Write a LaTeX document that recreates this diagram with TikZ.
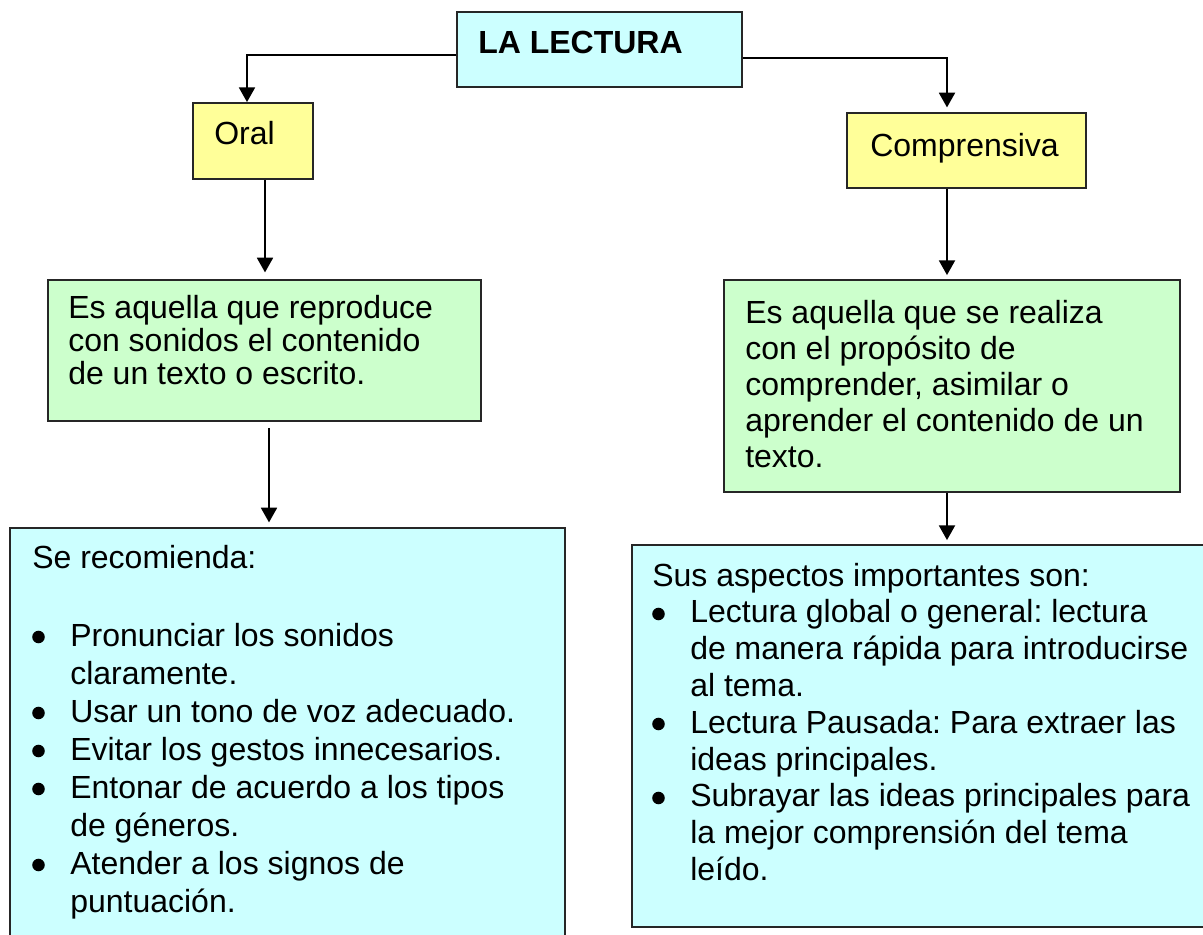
\documentclass[tikz,border=0pt]{standalone}
\usepackage{fontspec}
\setmainfont{Liberation Sans}
\usetikzlibrary{arrows.meta,fit}
\definecolor{cyanbox}{HTML}{CCFFFF}
\definecolor{yelbox}{HTML}{FFFF99}
\definecolor{grnbox}{HTML}{CCFFCC}
\newcommand{\bl}[1]{\hbox{\hspace*{28.5pt}#1}}
\newcommand{\cl}[1]{\hbox{\hspace*{28.5pt}#1}}
\frenchspacing
\begin{document}
\begin{tikzpicture}[x=0.75pt,y=-0.75pt,
  box/.style={draw=black!85, line width=1.4pt, inner sep=0pt},
  txt/.style={inner sep=0pt, anchor=base west, font=\fontsize{24}{27}\selectfont},
  bulletdot/.style={fill=black},
  arr/.style={draw=black, line width=1.4pt, -{Triangle[width=12pt,length=11pt]}}]
\useasboundingbox (0,0) rectangle (1203,935);
\clip (0,0) rectangle (1203,935);
\fill[white] (0,0) rectangle (1203,935);
% boxes
\node[box, fill=cyanbox, fit={(457,12) (742,87)}] (top) {};
\node[box, fill=yelbox, fit={(193,103) (313,179)}] (oral) {};
\node[box, fill=yelbox, fit={(847,113) (1086,188)}] (comp) {};
\node[box, fill=grnbox, fit={(48,280) (481,421)}] (g1) {};
\node[box, fill=grnbox, fit={(724,280) (1180,492)}] (g2) {};
\node[box, fill=cyanbox, fit={(10,528) (565,950)}] (b1) {};
\node[box, fill=cyanbox, fit={(632,545) (1215,927)}] (b2) {};
% texts
\node[txt] (tTop) at (478,53) {\bfseries LA LECTURA};
\node[txt] (tOral) at (214,144) {Oral};
\node[txt] (tComp) at (870,156) {Comprensiva};
\node[txt] (tG1) at (68,318) {\vtop{\baselineskip=24.75pt
  \hbox{Es aquella que reproduce}
  \hbox{con sonidos el contenido}
  \hbox{de un texto o escrito.}}};
\node[txt] (tG2) at (745,323) {\vtop{\baselineskip=27pt
  \hbox{Es aquella que se realiza}
  \hbox{con el propósito de}
  \hbox{comprender, asimilar o}
  \hbox{aprender el contenido de un}
  \hbox{texto.}}};
\node[txt] (tB1h) at (32,568) {Se recomienda:};
\node[txt] (tB1) at (32,646) {\vtop{\baselineskip=28.5pt
  \bl{Pronunciar los sonidos}
  \cl{claramente.}
  \bl{Usar un tono de voz adecuado.}
  \bl{Evitar los gestos innecesarios.}
  \bl{Entonar de acuerdo a los tipos}
  \cl{de géneros.}
  \bl{Atender a los signos de}
  \cl{puntuación.}}};
\node[txt] (tB2) at (652,586) {\vtop{\baselineskip=27.6pt
  \hbox{Sus aspectos importantes son:}
  \bl{Lectura global o general: lectura}
  \cl{de manera rápida para introducirse}
  \cl{al tema.}
  \bl{Lectura Pausada: Para extraer las}
  \cl{ideas principales.}
  \bl{Subrayar las ideas principales para}
  \cl{la mejor comprensión del tema}
  \cl{leído.}}};
% bullets
\foreach \yy in {637,713,751,789,865} \fill[bulletdot] (38.5,\yy) circle[radius=4.7pt];
\foreach \yy in {614,724,798} \fill[bulletdot] (658.5,\yy) circle[radius=4.7pt];
% connectors
\coordinate (jL) at (247,55);
\coordinate (jR) at (947,58);
\coordinate (a1) at (265,0);
\coordinate (a2) at (269,0);
\coordinate (a3) at (947,0);
\draw[arr] (top.west |- jL) -- (jL) -- (jL |- oral.north);
\draw[arr, shorten >=3.5pt] (top.east |- jR) -- (jR) -- (jR |- comp.north);
\draw[arr, shorten >=5pt] (a1 |- oral.south) -- (a1 |- g1.north);
\draw[arr, shorten <=4.5pt, shorten >=3.5pt] (a2 |- g1.south) -- (a2 |- b1.north);
\draw[arr, shorten >=3pt] (a3 |- comp.south) -- (a3 |- g2.north);
\draw[arr, shorten >=3pt] (a3 |- g2.south) -- (a3 |- b2.north);
\end{tikzpicture}
\end{document}
